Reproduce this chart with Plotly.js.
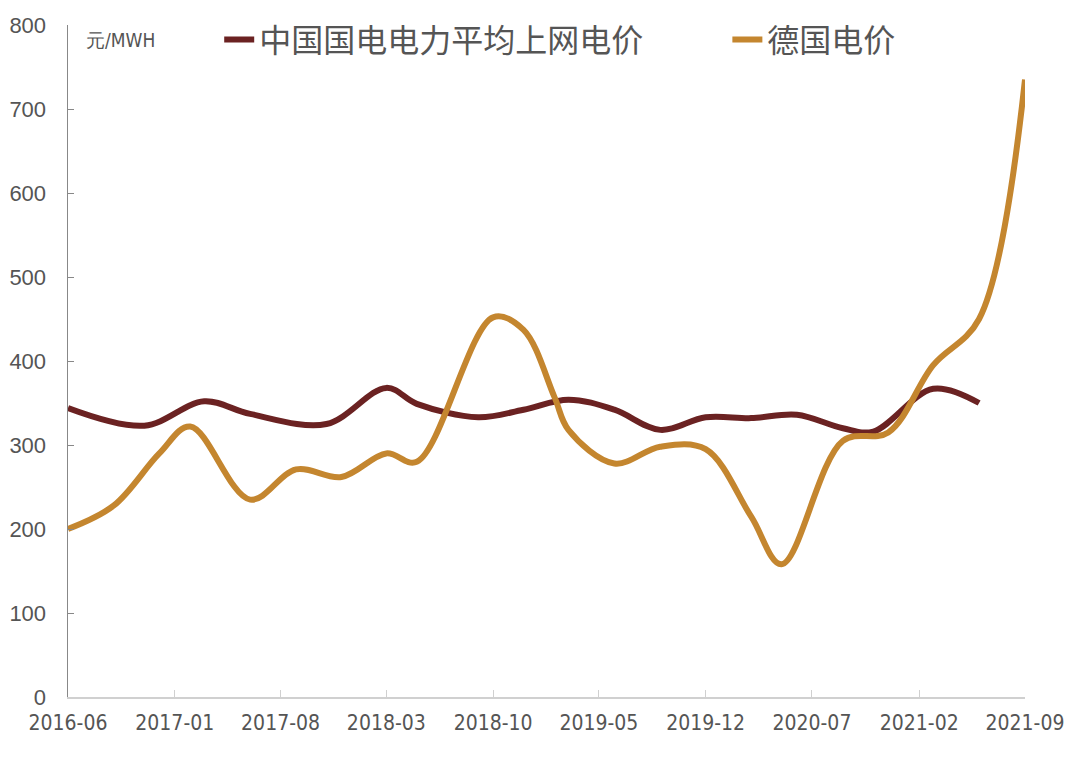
<!DOCTYPE html>
<html>
<head>
<meta charset="utf-8">
<script src="https://cdn.plot.ly/plotly-3.0.1.min.js"></script>
<style>html,body{margin:0;padding:0;background:#fff;}#chart{width:1080px;height:758px;}</style>
</head>
<body>
<div id="chart"></div>
<script>
const chinaName = '中国国电电力平均上网电价';
const germanyName = '德国电价';
const unitLabel = '元/MWH';

const chinaDates = ['2016-06','2016-11','2017-03','2017-06','2017-11','2018-03','2018-05','2018-09','2018-12','2019-03','2019-06','2019-09','2019-12','2020-03','2020-06','2020-09','2020-11','2021-03','2021-06'];
const chinaValues = [344,323,352,337,325,368,349,333,342,354,342,318,333,332,336,320,316,367,350];

const germanyDates = ['2016-06','2016-09','2016-12','2017-02','2017-06','2017-09','2017-12','2018-03','2018-05','2018-10','2018-12','2019-02','2019-03','2019-06','2019-09','2019-12','2020-03','2020-05','2020-09','2020-12','2021-03','2021-06','2021-09'];
const germanyValues = [200,228,290,322,235,271,262,290,280,452,437,357,318,278,298,295,215,158,305,315,395,450,735];

const tickDates = ['2016-06','2017-01','2017-08','2018-03','2018-10','2019-05','2019-12','2020-07','2021-02','2021-09'];
const tickLabels = ['2016-06','2017-01','2017-08','2018-03','2018-10','2019-05','2019-12','2020-07','2021-02','2021-09'];

const traces = [
  {x: chinaDates, y: chinaValues, name: chinaName, type: 'scatter', mode: 'lines', legend: 'legend',
   line: {color: '#6B2222', width: 6, shape: 'spline', smoothing: 1}},
  {x: germanyDates, y: germanyValues, name: germanyName, type: 'scatter', mode: 'lines', legend: 'legend2',
   line: {color: '#C4862F', width: 6, shape: 'spline', smoothing: 1}}
];

const legendFont = {family: 'Noto Sans CJK SC, sans-serif', size: 32, color: '#555'};

const layout = {
  width: 1080, height: 758,
  margin: {l: 68, r: 55, t: 25, b: 61},
  paper_bgcolor: '#fff', plot_bgcolor: '#fff',
  showlegend: true,
  legend: {orientation: 'h', x: 0.158, xanchor: 'left', y: 0.978, yanchor: 'middle',
           font: legendFont, bgcolor: 'rgba(0,0,0,0)', itemwidth: 30},
  legend2: {orientation: 'h', x: 0.689, xanchor: 'left', y: 0.978, yanchor: 'middle',
           font: legendFont, bgcolor: 'rgba(0,0,0,0)', itemwidth: 30},
  xaxis: {type: 'date', range: ['2016-06-01','2021-09-01'], tickvals: tickDates, ticktext: tickLabels,
          showgrid: false, zeroline: false, showline: true, linecolor: '#d0d0d0', linewidth: 2,
          ticks: 'inside', ticklen: 7, tickcolor: '#d0d0d0', tickwidth: 1, ticklabelstandoff: 6,
          tickfont: {family: 'DejaVu Sans Condensed, Liberation Sans Narrow, sans-serif', size: 21, color: '#555'}},
  yaxis: {range: [0, 800], dtick: 100, showgrid: false, zeroline: false, showline: true,
          linecolor: '#888', linewidth: 1.5, ticks: 'inside', ticklen: 6, tickcolor: '#888',
          ticklabelstandoff: 16,
          tickfont: {family: 'Liberation Sans, Arial, sans-serif', size: 22, color: '#555'}},
  annotations: [{text: unitLabel, xref: 'paper', yref: 'paper', x: 0.017, y: 0.978, xanchor: 'left', yanchor: 'middle',
                 showarrow: false, font: {family: 'DejaVu Sans Condensed, sans-serif', size: 19, color: '#555'}}]
};

Plotly.newPlot('chart', traces, layout, {displayModeBar: false, staticPlot: true});
</script>
</body>
</html>
